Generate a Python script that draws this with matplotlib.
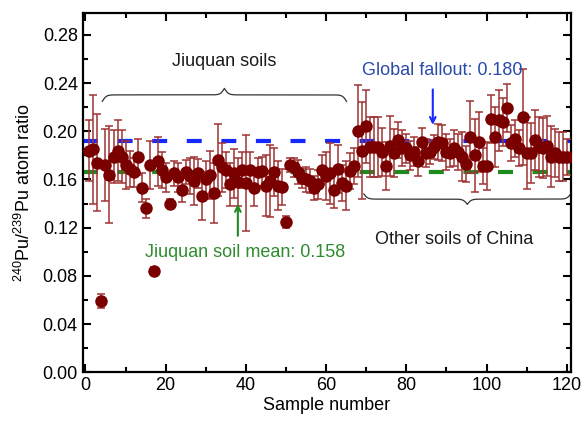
import numpy as np
import matplotlib
import matplotlib.pyplot as plt
from matplotlib.ticker import MultipleLocator

matplotlib.use("Agg")

plt.rcParams["font.family"] = ["Liberation Sans", "DejaVu Sans"]
plt.rcParams["mathtext.fontset"] = "custom"
plt.rcParams["mathtext.rm"] = "Liberation Sans"

# sample number -> 240Pu/239Pu ratio and uncertainty
samples = list(range(1, 121))
ratio = [
    0.184, 0.185, 0.174, 0.059, 0.172, 0.164, 0.179, 0.184, 0.179, 0.172,
    0.169, 0.166, 0.179, 0.153, 0.136, 0.172, 0.084, 0.175, 0.168, 0.162,
    0.140, 0.165, 0.162, 0.151, 0.166, 0.163, 0.159, 0.165, 0.146, 0.160,
    0.164, 0.149, 0.176, 0.170, 0.168, 0.156, 0.165, 0.158, 0.168, 0.157,
    0.168, 0.153, 0.166, 0.167, 0.155, 0.159, 0.166, 0.155, 0.154, 0.125,
    0.172, 0.170, 0.166, 0.161, 0.160, 0.159, 0.153, 0.156, 0.168, 0.163,
    0.165, 0.151, 0.169, 0.157, 0.155, 0.167, 0.171, 0.200, 0.184, 0.204,
    0.187, 0.187, 0.187, 0.183, 0.171, 0.188, 0.182, 0.193, 0.186, 0.186,
    0.180, 0.183, 0.175, 0.191, 0.182, 0.183, 0.187, 0.191, 0.190, 0.183,
    0.182, 0.186, 0.183, 0.179, 0.173, 0.195, 0.180, 0.191, 0.171, 0.171,
    0.210, 0.195, 0.209, 0.208, 0.219, 0.190, 0.194, 0.186, 0.212, 0.182,
    0.182, 0.193, 0.187, 0.186, 0.188, 0.179, 0.182, 0.179, 0.179, 0.179,
]
ratio_err = [
    0.025, 0.045, 0.040, 0.006, 0.030, 0.040, 0.022, 0.025, 0.022, 0.020,
    0.015, 0.012, 0.015, 0.012, 0.008, 0.020, 0.003, 0.020, 0.015, 0.012,
    0.004, 0.010, 0.012, 0.010, 0.010, 0.015, 0.020, 0.012, 0.020, 0.015,
    0.020, 0.025, 0.030, 0.020, 0.015, 0.018, 0.020, 0.020, 0.015, 0.040,
    0.015, 0.015, 0.012, 0.012, 0.025, 0.030, 0.020, 0.020, 0.015, 0.005,
    0.006, 0.008, 0.010, 0.008, 0.010, 0.010, 0.010, 0.012, 0.012, 0.020,
    0.025, 0.015, 0.020, 0.015, 0.020, 0.015, 0.015, 0.038, 0.040, 0.030,
    0.025, 0.025, 0.025, 0.020, 0.020, 0.025, 0.020, 0.015, 0.015, 0.012,
    0.012, 0.012, 0.012, 0.012, 0.012, 0.010, 0.010, 0.015, 0.015, 0.015,
    0.012, 0.015, 0.015, 0.020, 0.015, 0.030, 0.030, 0.025, 0.015, 0.020,
    0.020, 0.025, 0.025, 0.020, 0.020, 0.015, 0.015, 0.015, 0.040, 0.030,
    0.025, 0.025, 0.025, 0.025, 0.025, 0.025, 0.020, 0.020, 0.020, 0.015,
]

global_level = 0.192
jiuquan_level = 0.166


def curly_brace(ax, x0, x1, y, h, beta=2.0, **kw):
    xs = np.linspace(x0, x1, 401)
    half = xs[:201] - x0
    yh = 1 / (1 + np.exp(-beta * (half - half[0]))) + 1 / (1 + np.exp(-beta * (half - half[-1])))
    ys = np.concatenate((yh, yh[-2::-1]))
    ax.plot(xs, y + (ys - 0.5) * h, **kw)


fig = plt.figure(figsize=(5.86, 4.25), dpi=100)
ax = fig.add_axes([0.141, 0.124, 0.833, 0.845])

ax.axhline(global_level, color="#1428ff", lw=3, dashes=(3.6, 4.7), zorder=1)
ax.axhline(jiuquan_level, color="#1f8a1f", lw=3, dashes=(3.6, 4.7), zorder=1)

ax.errorbar(samples, ratio, yerr=ratio_err, fmt="o", ms=8, color="#7a0000",
            mec="#7a0000", ecolor="#9e3333", elinewidth=1.1, capsize=3.2,
            capthick=1.1, zorder=3)

curly_brace(ax, 4.2, 65.1, 0.2248, 0.0108, color="#333333", lw=0.9)
curly_brace(ax, 69.4, 121.0, 0.148, -0.0086, color="#333333", lw=0.9)

ax.text(34.5, 0.258, "Jiuquan soils", ha="center", va="center", fontsize=13, color="#1a1a1a")
ax.text(89, 0.2505, "Global fallout: 0.180", ha="center", va="center", fontsize=13, color="#2a4aa8")
ax.text(14.9, 0.0995, "Jiuquan soil mean: 0.158", ha="left", va="center", fontsize=13, color="#2e8b2e")
ax.text(92, 0.110, "Other soils of China", ha="center", va="center", fontsize=13, color="#1a1a1a")

ax.annotate("", xy=(86.6, 0.203), xytext=(86.6, 0.237),
            arrowprops=dict(arrowstyle="->", color="#1428ff", lw=1.5))
ax.annotate("", xy=(38, 0.142), xytext=(38, 0.111),
            arrowprops=dict(arrowstyle="->", color="#1f8a1f", lw=1.5))

ax.set_xlim(-0.7, 121)
ax.set_ylim(0, 0.298)
ax.xaxis.set_major_locator(MultipleLocator(20))
ax.xaxis.set_minor_locator(MultipleLocator(10))
ax.yaxis.set_major_locator(MultipleLocator(0.04))
ax.yaxis.set_minor_locator(MultipleLocator(0.02))
ax.yaxis.set_major_formatter(matplotlib.ticker.FormatStrFormatter("%.2f"))
ax.tick_params(which="both", direction="in", top=True, right=True, labelsize=13, width=1.5)
ax.tick_params(which="major", length=6)
ax.tick_params(which="minor", length=3.5)
for s in ax.spines.values():
    s.set_linewidth(1.6)

ax.set_xlabel("Sample number", fontsize=13, labelpad=2)
ax.set_ylabel("$^{240}$Pu/$^{239}$Pu atom ratio", fontsize=13, labelpad=6)

fig.savefig("out.png", dpi=100)
